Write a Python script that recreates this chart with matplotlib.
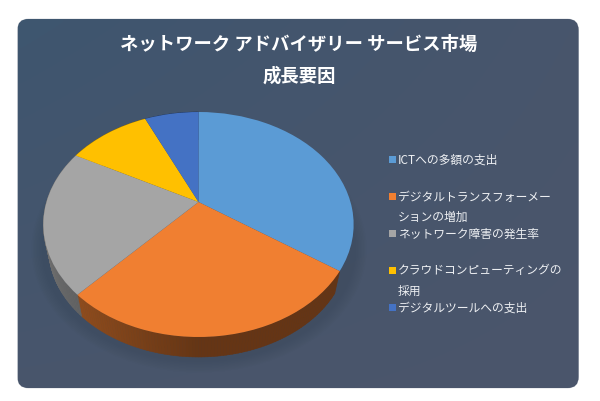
import numpy as np
import matplotlib
matplotlib.use("Agg")
import matplotlib.pyplot as plt
from matplotlib.patches import FancyBboxPatch, Rectangle, Ellipse
from matplotlib.collections import PolyCollection
from matplotlib.transforms import Transform
from matplotlib.colors import to_rgb

plt.rcParams['font.family'] = ['Noto Sans CJK JP', 'DejaVu Sans']

title_lines = ["ネットワーク アドバイザリー サービス市場", "成長要因"]
labels = ["ICTへの多額の支出", "デジタルトランスフォーメー\nションの増加", "ネットワーク障害の発生率",
          "クラウドコンピューティングの\n採用", "デジタルツールへの支出"]
values = [34.6, 27.3, 20.9, 10.4, 6.8]
colors = ["#5b9bd5", "#f07f31", "#a5a5a5", "#ffc000", "#4472c4"]
legend_y = [160, 197, 234, 271, 308]

CX, CY, A, C, K = 198.5, 203.0, 152.0, 108.0, -0.2


class Perspective(Transform):
    input_dims = output_dims = 2

    def __init__(self, scale=1.0, dy=0.0):
        super().__init__()
        self.scale, self.dy = scale, dy

    def transform_non_affine(self, xy):
        xy = np.asarray(xy, float)
        u, v = xy[:, 0], -xy[:, 1]
        d = 1 + K * v
        return np.column_stack([CX + self.scale * A * u / d,
                                CY + self.dy + self.scale * C * v / d])


fig = plt.figure(figsize=(6.0, 4.02), dpi=100, facecolor="white")
ax = fig.add_axes([0, 0, 1, 1])

wedges, _ = ax.pie(values, colors=colors, startangle=90, counterclock=False,
                   wedgeprops=dict(linewidth=0))
ax.set_aspect("auto")
ax.set_xlim(0, 600)
ax.set_ylim(402, 0)
ax.axis("off")

# panel
panel = FancyBboxPatch((17.5, 20), 561, 369, boxstyle="round,pad=0,rounding_size=11",
                       fc="#45556d", ec="#c9ccd2", lw=0.5, zorder=0)
ax.add_patch(panel)
grad = np.linspace(0, 1, 64)
gx, gy = np.meshgrid(grad, grad)
t = (0.75 * gx + 0.6 * (gy - 0.1) * (1 - gx) + 0.25 * gy)[..., None]
img = (1 - t) * np.array(to_rgb("#3f566f")) + t * np.array(to_rgb("#4b556b"))
im = ax.imshow(img, extent=(17.5, 578.5, 389, 20), aspect="auto", zorder=0.5, interpolation="bilinear")
im.set_clip_path(panel)
ax.set_xlim(0, 600)
ax.set_ylim(402, 0)

# soft shadow under the disc
for i in range(8):
    ax.add_patch(Ellipse((199, 250), 314 + i * 3, 226 + i * 3, fc="#2c3a4c", ec="none",
                         alpha=0.035, zorder=0.8))

# side wall (the first slice shows none in the reference view)
top = Perspective()
bottom = Perspective(scale=0.965, dy=24.7)
edges = np.concatenate([[0], np.cumsum(values)]) / sum(values) * 2 * np.pi
polys, face = [], []
for i, col in enumerate(colors):
    if i == 0:
        continue
    th = np.linspace(edges[i], edges[i + 1], max(int((edges[i + 1] - edges[i]) * 60), 2))
    for a, b in zip(th[:-1], th[1:]):
        p = np.array([[np.sin(a), np.cos(a)], [np.sin(b), np.cos(b)]])
        q_t, q_b = top.transform_non_affine(p), bottom.transform_non_affine(p)
        polys.append([q_t[0], q_t[1], q_b[1], q_b[0]])
        mid = (a + b) / 2
        shade = 0.42 + 0.26 * max(0.0, -np.sin(mid))
        face.append(tuple(c * shade for c in to_rgb(col)))
ax.add_collection(PolyCollection(polys, facecolors=face, edgecolors=face, linewidths=0.4, zorder=1))

# top of the disc
for w in wedges:
    w.set_transform(top + ax.transData)
    w.set_zorder(2)
    w.set_clip_on(False)

# title
for s, y in zip(title_lines, [44, 76]):
    ax.text(299, y, s, color="white", fontsize=13.2, fontweight="bold",
            ha="center", va="center", zorder=3)

# legend
for lab, col, y in zip(labels, colors, legend_y):
    ax.add_patch(Rectangle((388.5, y - 3.5), 7, 7, fc=col, ec="none", zorder=3))
    ax.text(398, y - 6.5, lab, color="#eef0f3", fontsize=8.5, ha="left", va="top",
            linespacing=1.7, zorder=3)

fig.savefig("out.png", dpi=100)
